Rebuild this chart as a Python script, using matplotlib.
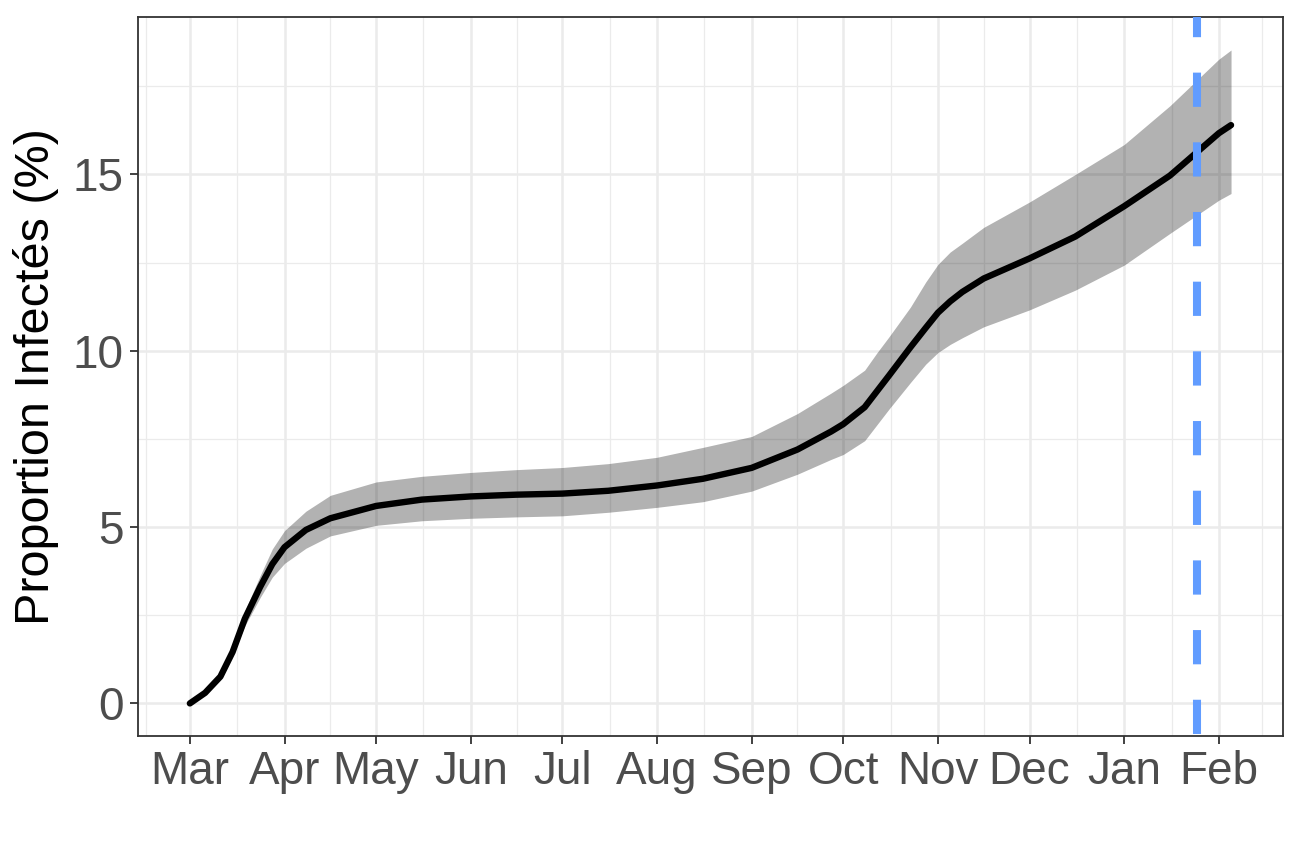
import numpy as np
import pandas as pd
import matplotlib
matplotlib.use("Agg")
import matplotlib.pyplot as plt
from matplotlib.ticker import MultipleLocator

# values
dates = pd.to_datetime([
    "2020-03-01", "2020-03-06", "2020-03-11", "2020-03-15", "2020-03-19",
    "2020-03-24", "2020-03-28", "2020-04-01", "2020-04-08", "2020-04-16",
    "2020-05-01", "2020-05-16", "2020-06-01", "2020-06-16", "2020-07-01",
    "2020-07-16", "2020-08-01", "2020-08-16", "2020-09-01", "2020-09-16",
    "2020-09-27", "2020-10-01", "2020-10-08", "2020-10-12", "2020-10-16",
    "2020-10-23", "2020-10-28", "2020-11-01", "2020-11-05", "2020-11-09",
    "2020-11-16", "2020-12-01", "2020-12-16", "2021-01-01", "2021-01-16",
    "2021-02-01", "2021-02-05",
])
prop_mid = [
    0.00, 0.30, 0.76, 1.46, 2.40,
    3.30, 3.95, 4.43, 4.92, 5.25,
    5.60, 5.78, 5.87, 5.92, 5.95,
    6.03, 6.18, 6.37, 6.68, 7.20,
    7.71, 7.92, 8.40, 8.85, 9.30,
    10.10, 10.65, 11.08, 11.40, 11.67,
    12.05, 12.62, 13.24, 14.10, 14.97,
    16.17, 16.40,
]
prop_low = [
    0.00, 0.27, 0.70, 1.36, 2.20,
    3.00, 3.58, 3.97, 4.40, 4.75,
    5.05, 5.18, 5.25, 5.29, 5.32,
    5.42, 5.56, 5.72, 6.02, 6.50,
    6.92, 7.06, 7.45, 7.90, 8.35,
    9.10, 9.62, 9.95, 10.18, 10.37,
    10.68, 11.16, 11.72, 12.43, 13.33,
    14.27, 14.46,
]
prop_high = [
    0.00, 0.33, 0.82, 1.56, 2.62,
    3.62, 4.38, 4.90, 5.45, 5.90,
    6.28, 6.44, 6.55, 6.63, 6.69,
    6.80, 6.98, 7.26, 7.57, 8.22,
    8.80, 9.02, 9.45, 9.94, 10.40,
    11.24, 11.95, 12.45, 12.80, 13.05,
    13.50, 14.22, 15.00, 15.85, 16.95,
    18.27, 18.53,
]
cutoff_date = pd.Timestamp("2021-01-25")
month_labels = ["Mar", "Apr", "May", "Jun", "Jul", "Aug", "Sep", "Oct",
                "Nov", "Dec", "Jan", "Feb"]
month_ticks = pd.date_range("2020-03-01", "2021-02-01", freq="MS")

plt.rcParams["font.family"] = ["Liberation Sans", "DejaVu Sans"]

fig = plt.figure(figsize=(13, 8.67), dpi=100)
ax = fig.add_axes([0.106, 0.151, 0.881, 0.829])

# grid like theme_bw
grid_col = "#EBEBEB"
xmin = dates[0] - (dates[-1] - dates[0]) * 0.05
xmax = dates[-1] + (dates[-1] - dates[0]) * 0.05
ymax_data = max(prop_high)
ax.set_xlim(xmin, xmax)
ax.set_ylim(-0.05 * ymax_data, ymax_data * 1.05)

ax.set_xticks(month_ticks)
ax.set_xticklabels(month_labels)
minor_x = month_ticks[:-1] + (month_ticks[1:] - month_ticks[:-1]) / 2
minor_x = minor_x.append(pd.DatetimeIndex([month_ticks[0] - pd.Timedelta(days=14.5),
                                           month_ticks[-1] + pd.Timedelta(days=14)]))
ax.set_xticks(minor_x, minor=True)
ax.yaxis.set_major_locator(MultipleLocator(5))
ax.yaxis.set_minor_locator(MultipleLocator(2.5))

ax.grid(which="major", color=grid_col, linewidth=1.8, zorder=0)
ax.grid(which="minor", color=grid_col, linewidth=0.9, zorder=0)
ax.set_axisbelow(True)

ax.fill_between(dates, prop_low, prop_high, color="black", alpha=0.3,
                linewidth=0, zorder=2)
ax.plot(dates, prop_mid, color="black", linewidth=4.6, zorder=3,
        solid_capstyle="round", solid_joinstyle="round")

ax.axvline(cutoff_date, color="#619CFF", linewidth=5.8,
           linestyle=(8.4, (4.25, 4.4)), dash_capstyle="butt", zorder=4)

for sp in ax.spines.values():
    sp.set_color("#333333")
    sp.set_linewidth(1.3)

ax.tick_params(which="major", length=6, width=1.3, color="#333333",
               labelsize=33, labelcolor="#4D4D4D", pad=4)
ax.tick_params(which="minor", length=0)
ax.set_ylabel("Proportion Infectés (%)", fontsize=35, color="black", labelpad=10)

fig.savefig("out.png", dpi=100)
